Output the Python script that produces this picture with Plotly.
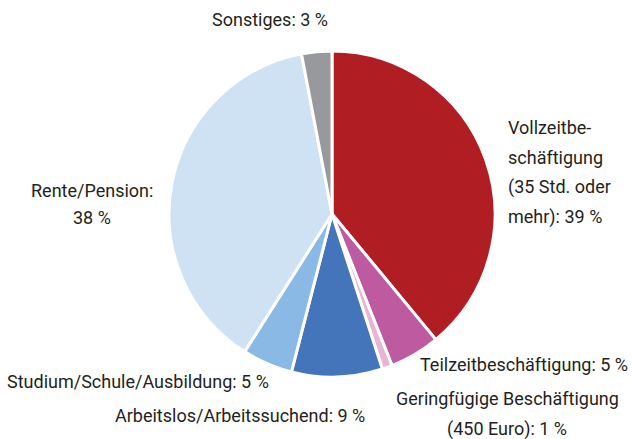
import plotly.graph_objects as go

labels = [
    "Vollzeitbeschäftigung (35 Std. oder mehr)",
    "Teilzeitbeschäftigung",
    "Geringfügige Beschäftigung (450 Euro)",
    "Arbeitslos/Arbeitssuchend",
    "Studium/Schule/Ausbildung",
    "Rente/Pension",
    "Sonstiges",
]
values = [39, 5, 1, 9, 5, 38, 3]
colors = ["#B01E24", "#BE5AA0", "#E8B4D4", "#4474BA", "#89B9E4", "#CEE2F4", "#97999C"]

# label lines as shown next to the pie (one entry per text line)
label_lines = [
    ("Sonstiges: 3 %", 270, 20, "center"),
    ("Vollzeitbe-", 506, 127, "left"),
    ("schäftigung", 506, 157, "left"),
    ("(35 Std. oder", 506, 187, "left"),
    ("mehr): 39 %", 506, 217, "left"),
    ("Rente/Pension:", 92, 190, "center"),
    ("38 %", 92, 218, "center"),
    ("Teilzeitbeschäftigung: 5 %", 418, 364, "left"),
    ("Geringfügige Beschäftigung", 507, 398, "center"),
    ("(450 Euro): 1 %", 507, 429, "center"),
    ("Studium/Schule/Ausbildung: 5 %", 5, 381, "left"),
    ("Arbeitslos/Arbeitssuchend: 9 %", 113, 415, "left"),
]

W, H = 633, 439
FONT = "Roboto, sans-serif"

fig = go.Figure(
    go.Pie(
        labels=labels,
        values=values,
        sort=False,
        direction="clockwise",
        rotation=0,
        marker=dict(colors=colors, line=dict(color="white", width=3)),
        textinfo="none",
        hoverinfo="label+percent",
        domain=dict(x=[(332 - 163) / W, (332 + 163) / W], y=[(225 - 163) / H, (225 + 163) / H]),
    )
)

for text, x, y, align in label_lines:
    xanchor = "left" if align == "left" else "center"
    fig.add_annotation(
        text=text,
        x=x / W,
        y=1 - y / H,
        xref="paper",
        yref="paper",
        xanchor=xanchor,
        yanchor="middle",
        showarrow=False,
        font=dict(family=FONT, size=18, color="#231F20"),
    )

fig.update_layout(
    width=W,
    height=H,
    margin=dict(l=0, r=0, t=0, b=0),
    showlegend=False,
    paper_bgcolor="white",
)

fig.write_html(
    "out.html",
    config={"displayModeBar": False},
    post_script="document.body.style.margin='0';",
)
